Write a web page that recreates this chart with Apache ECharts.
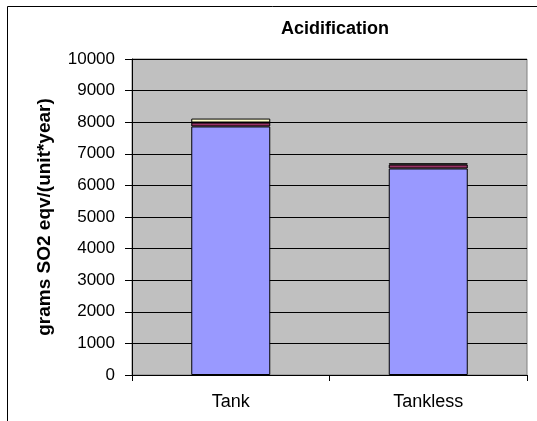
<!DOCTYPE html>
<html><head><meta charset="utf-8">
<script src="https://cdn.jsdelivr.net/npm/echarts@6/dist/echarts.min.js"></script>
<style>html,body{margin:0;padding:0;background:#fff}#c{width:537px;height:421px}</style>
</head><body><div id="c"></div>
<script>
const categories = ['Tank', 'Tankless'];
const seriesA = [7865, 6535];
const seriesB = [125, 125];
const seriesC = [125, 40];
const yTicks = [0, 1000, 2000, 3000, 4000, 5000, 6000, 7000, 8000, 9000, 10000];

const chart = echarts.init(document.getElementById('c'), null, {renderer: 'canvas'});
const font = 'Liberation Sans, Arial, sans-serif';
const mk = (name, data, color) => ({
  name, type: 'bar', stack: 's', data, barWidth: '40%',
  itemStyle: {color, borderColor: '#000', borderWidth: 1},
  emphasis: {disabled: true}
});
chart.setOption({
  animation: false,
  title: {text: 'Acidification', left: 330, textAlign: 'center', top: 15,
    textStyle: {fontFamily: font, fontSize: 18, fontWeight: 'bold', color: '#000'}},
  graphic: [{type: 'rect', shape: {x: 7.5, y: 6.5, width: 540, height: 430},
    style: {fill: 'none', stroke: '#000', lineWidth: 1}, silent: true, z: -10}],
  grid: {left: 132, right: 10, top: 59, bottom: 46, show: true,
    backgroundColor: '#C0C0C0', borderColor: '#808080', borderWidth: 1},
  xAxis: {type: 'category', data: categories,
    axisLine: {lineStyle: {color: '#000'}},
    axisTick: {show: true, alignWithLabel: false, length: 6, lineStyle: {color: '#000'}},
    axisLabel: {fontFamily: font, fontSize: 18, color: '#000', margin: 18}},
  yAxis: {type: 'value', min: yTicks[0], max: yTicks[yTicks.length - 1], interval: 1000,
    name: 'grams SO2 eqv/(unit*year)', nameLocation: 'middle', nameGap: 78,
    nameTextStyle: {fontFamily: font, fontSize: 19, fontWeight: 'bold', color: '#000'},
    axisLine: {show: true, lineStyle: {color: '#000'}},
    axisTick: {show: true, length: 7, lineStyle: {color: '#000'}},
    splitLine: {show: true, lineStyle: {color: '#000', width: 1}},
    axisLabel: {fontFamily: font, fontSize: 17, color: '#000', margin: 17,
      formatter: v => String(v)}},
  series: [
    mk('A', seriesA, '#9999FF'),
    mk('B', seriesB, '#993366'),
    mk('C', seriesC, '#FFFFCC')
  ]
});
</script></body></html>
